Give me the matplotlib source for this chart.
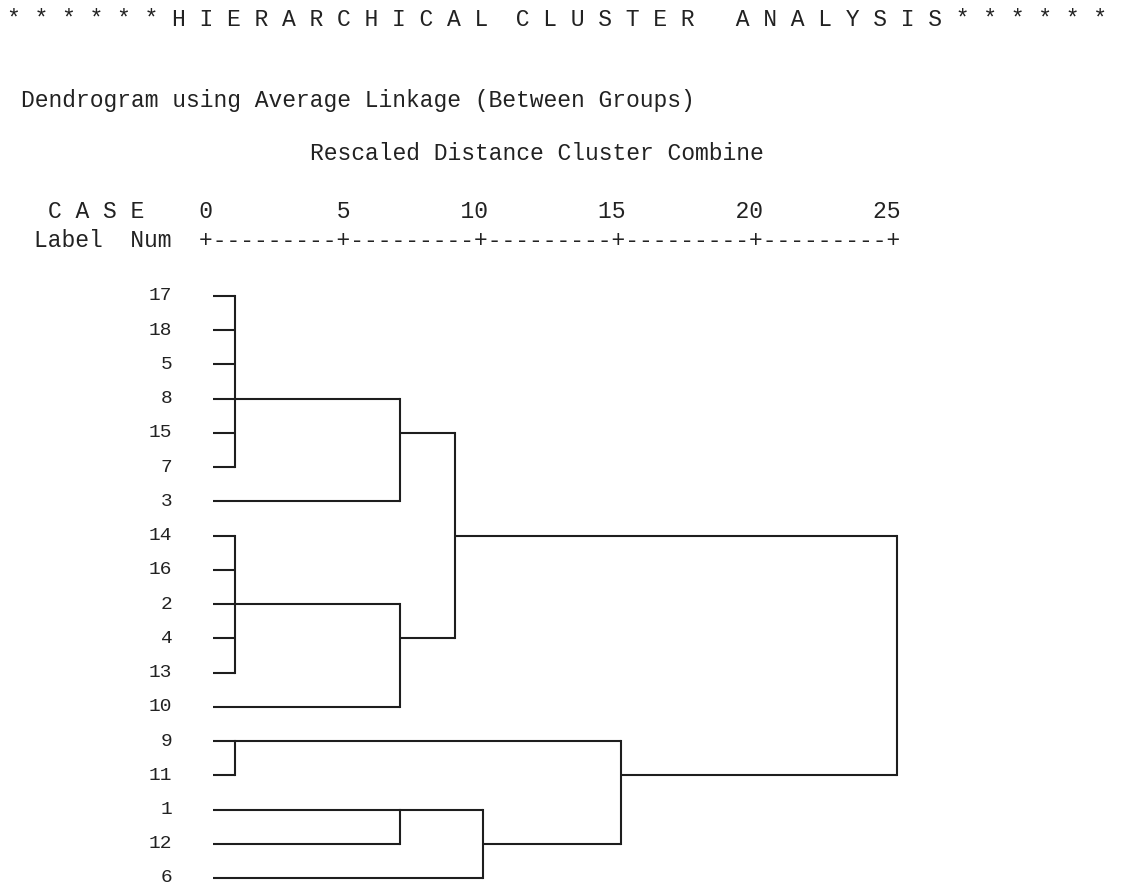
import matplotlib
matplotlib.use('Agg')
import matplotlib.pyplot as plt

# case order from top to bottom
cases = [17, 18, 5, 8, 15, 7, 3, 14, 16, 2, 4, 13, 10, 9, 11, 1, 12, 6]

# merges: children (case numbers or earlier merge names), rescaled distance,
# and the case whose row the joined cluster continues on
merge_names    = ['A', 'B', 'C', 'D', 'E', 'F', 'G', 'H', 'I', 'J']
merge_children = [[17, 18, 5, 8, 15, 7], ['A', 3], [14, 16, 2, 4, 13], ['C', 10],
                  ['B', 'D'], [9, 11], [1, 12], ['G', 6], ['F', 'H'], ['E', 'I']]
merge_heights  = [1, 7, 1, 7, 9, 1, 7, 10, 15, 25]
merge_rows     = [8, 15, 2, 4, 14, 9, 1, 12, 11, None]

scale_ticks = [0, 5, 10, 15, 20, 25]

W, H = 1122, 890
fig = plt.figure(figsize=(W / 100, H / 100), dpi=100)
fig.patch.set_facecolor('white')

mono = 'Liberation Mono'
fs = 16.56          # 13.8 px per character, same grid as the original listing
cw = 13.8           # character width in px
P = 207             # px centre of the "0" column
tc = '#222222'

# dendrogram axes: x = rescaled distance, y = row index (rows from y=296 to y=878 px)
ax = fig.add_axes([P / W, (H - 878) / H, 690 / W, 582 / H])
ax.set_xlim(0, 25)
ax.set_ylim(len(cases) - 1, 0)
ax.axis('off')

lc = '#1e1e1e'
lw = 1.5
leaf_start = 0.22

pos = {c: (i, leaf_start) for i, c in enumerate(cases)}   # row, x where the branch starts
for name, kids, h, row in zip(merge_names, merge_children, merge_heights, merge_rows):
    rows = []
    for k in kids:
        r, x0 = pos[k]
        ax.plot([x0, h], [r, r], color=lc, lw=lw, solid_capstyle='butt', clip_on=False)
        rows.append(r)
    ax.plot([h, h], [min(rows), max(rows)], color=lc, lw=lw, solid_capstyle='projecting', clip_on=False)
    if row is not None:
        pos[name] = (cases.index(row), h)

# case labels, right aligned under "Num"
for i, c in enumerate(cases):
    ax.annotate(str(c), xy=(0, i), xycoords=('axes fraction', 'data'),
                xytext=(-(3 * cw - cw / 2) * 0.72, 0), textcoords='offset points',
                family=mono, fontsize=14, ha='right', va='center', color=tc)


def col_text(col, py, s):
    # col is counted from the "0" column of the scale
    fig.text((P - cw / 2 + col * cw) / W, 1 - py / H, s, family=mono, fontsize=fs,
             ha='left', va='center', color=tc)


title = '* * * * * * H I E R A R C H I C A L  C L U S T E R   A N A L Y S I S * * * * * *'
col_text(-14, 20, title)
col_text(-13, 100, 'Dendrogram using Average Linkage (Between Groups)')
col_text(8, 153, 'Rescaled Distance Cluster Combine')

# scale header built from the tick values
head = 'C A S E    '
for t in scale_ticks:
    head += str(t).rjust(10 if t else 1)
col_text(-11, 211, head)
col_text(-12, 241, 'Label  Num  ' + '+' + '---------+' * (len(scale_ticks) - 1))

fig.savefig('out.png', dpi=100, facecolor='white')
